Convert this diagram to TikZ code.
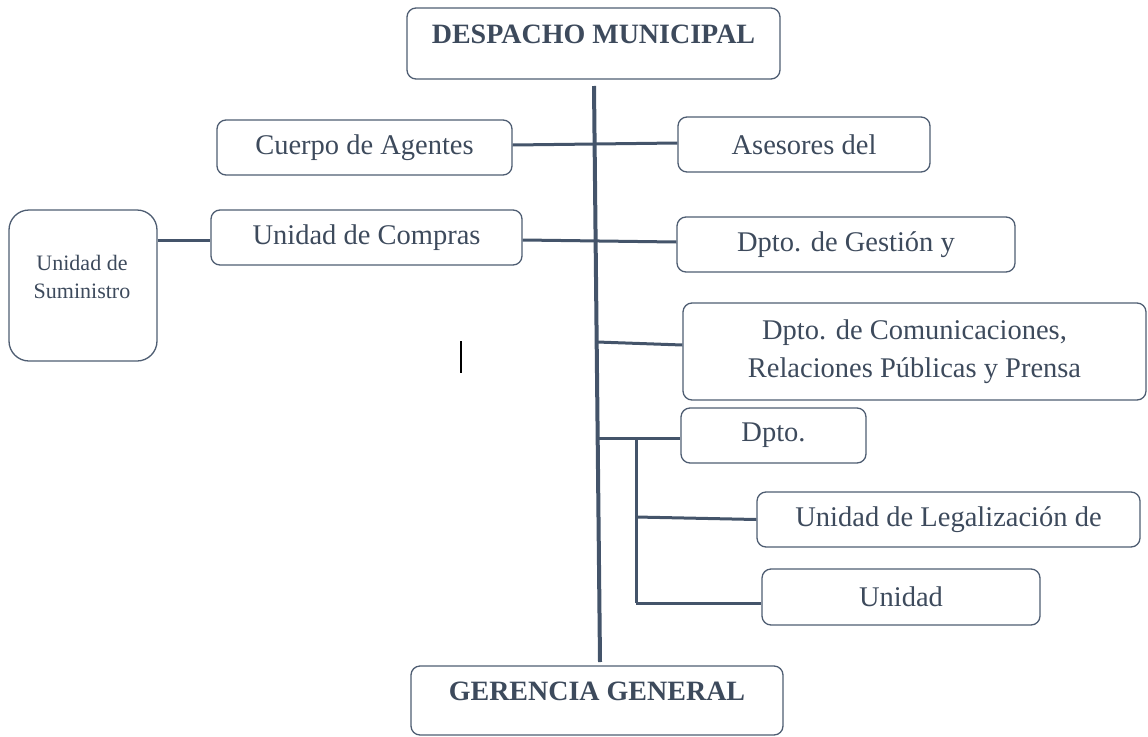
\documentclass[tikz,border=0pt]{standalone}
\usepackage{fontspec}
\setmainfont{Liberation Serif}
\definecolor{tcol}{HTML}{3D4A5C}
\definecolor{bcol}{HTML}{4E5D72}
\definecolor{lcol}{HTML}{44546A}
\tikzset{
  orgbox/.style={draw=bcol, line width=1.3pt, rounded corners=9pt, inner sep=0pt,
    text=tcol, align=center, font=\fontsize{28.5}{38}\selectfont},
  headbox/.style={orgbox, font=\fontsize{28}{38}\selectfont\bfseries, text height=10pt, text depth=10pt},
  conn/.style={draw=lcol, line width=3pt},
  mainline/.style={draw=lcol, line width=4pt},
}
\begin{document}
\begin{tikzpicture}[x=1pt,y=-1pt]
\useasboundingbox (0,0) rectangle (1148,736);
\node[headbox, minimum width=373pt, minimum height=71pt] (desp) at (593.5,43.5) {DESPACHO MUNICIPAL};
\node[orgbox, minimum width=295pt, minimum height=55pt] (cuerpo) at (364.5,147.5) {Cuerpo de Agentes};
\node[orgbox, minimum width=252pt, minimum height=55pt] (ases) at (804,144.5) {Asesores del};
\node[orgbox, minimum width=311pt, minimum height=55pt] (compras) at (366.5,237.5) {Unidad de Compras};
\node[orgbox, rounded corners=20pt, minimum width=148pt, minimum height=151pt] (sumin) at (83,285.5) {};
\node[text=tcol, align=center, inner sep=0pt, font=\fontsize{22}{28}\selectfont] (suminT) at (82,277) {Unidad de\\Suministro};
\node[orgbox, minimum width=338pt, minimum height=55pt] (gestion) at (846,244.5) {Dpto. de Gestión y};
\node[orgbox, minimum width=463pt, minimum height=97pt] (comun) at (914.5,351.5) {Dpto. de Comunicaciones,\\Relaciones Públicas y Prensa};
\node[orgbox, minimum width=185pt, minimum height=55pt] (dpto) at (773.5,435.5) {Dpto.};
\node[orgbox, minimum width=383pt, minimum height=55pt] (legal) at (948.5,519.5) {Unidad de Legalización de};
\node[orgbox, minimum width=278pt, minimum height=56pt] (unidad) at (901,597) {Unidad};
\node[headbox, minimum width=372pt, minimum height=69pt] (geren) at (597,700.5) {GERENCIA GENERAL};

% main trunk
\coordinate (vt) at (594,86);
\coordinate (vb) at (600,662);
\draw[mainline] (vt) -- (vb);

% branches
\draw[conn] ([yshift=2.5pt]cuerpo.east) -- ([yshift=1.5pt]ases.west);
\draw[conn] ([yshift=-2.5pt]sumin.east |- compras.west) -- ([yshift=-2.5pt]compras.west);
\draw[conn] ([yshift=-2.5pt]compras.east) -- ([yshift=2.5pt]gestion.west);
\coordinate (b1) at (597,342);
\draw[conn] (b1) -- ([yshift=6.5pt]comun.west);
\coordinate (b2) at (598,438);
\draw[conn] (b2) -- (b2 -| dpto.west);
\coordinate (s0) at (636,438);
\coordinate (s1) at (636,603);
\draw[conn] (s0) -- (s1);
\coordinate (s2) at (636,517);
\draw[conn] (s2) -- (legal.west);
\draw[conn] (s1) -- (s1 -| unidad.west);

% stray mark
\draw[black, line width=1.5pt] (461,341) -- (461,373);
\end{tikzpicture}
\end{document}
